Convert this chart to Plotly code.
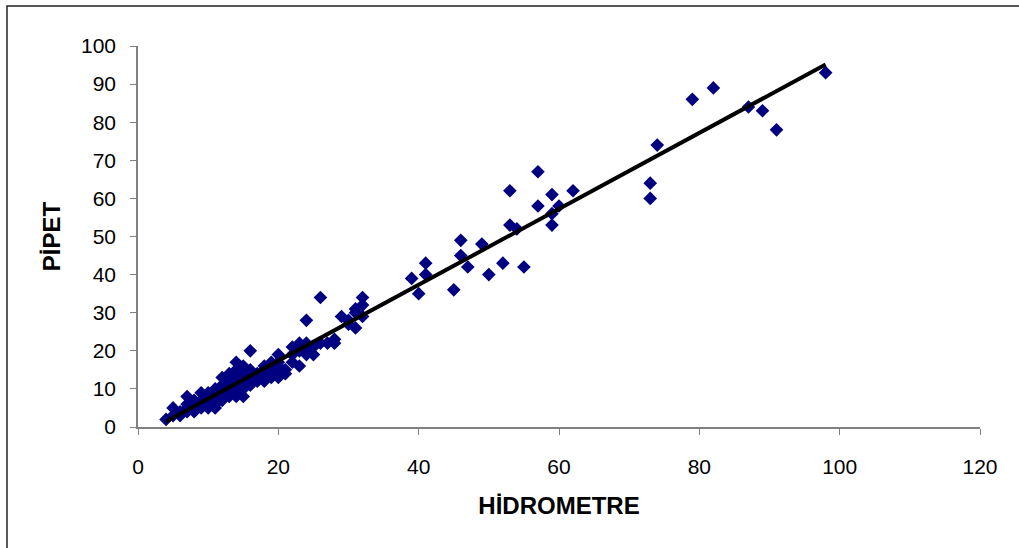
import numpy as np
import plotly.graph_objects as go

hidrometre = [4, 5, 5, 6, 6, 7, 7, 7, 7, 8, 8, 8, 8, 9, 9, 9, 9, 10, 10, 10, 10, 10,
              11, 11, 11, 11, 11, 12, 12, 12, 12, 12, 13, 13, 13, 13, 13,
              14, 14, 14, 14, 14, 14, 14, 15, 15, 15, 15, 15, 15, 16, 16, 16, 16, 16,
              17, 17, 17, 18, 18, 18, 18, 19, 19, 19, 19, 20, 20, 20, 20, 20, 21, 21,
              22, 22, 22, 23, 23, 23, 24, 24, 24, 24, 25, 25, 26, 26, 27, 28, 28,
              29, 30, 30, 31, 31, 31, 32, 32, 32,
              39, 40, 41, 41, 45, 46, 46, 47, 49, 50, 52, 53, 53, 54, 55, 57, 57,
              59, 59, 59, 60, 62, 73, 73, 74, 79, 82, 87, 89, 91, 98]
pipet = [2, 5, 3, 4, 3, 8, 6, 4, 5, 7, 5, 4, 6, 9, 7, 5, 6, 8, 9, 6, 7, 5,
         10, 8, 6, 5, 9, 13, 10, 8, 7, 11, 12, 14, 10, 8, 9,
         17, 15, 13, 11, 9, 8, 12, 16, 14, 12, 10, 8, 13, 20, 15, 13, 11, 12,
         14, 12, 13, 15, 13, 16, 12, 17, 15, 13, 14, 19, 17, 15, 13, 16, 15, 14,
         21, 19, 17, 22, 20, 16, 22, 20, 28, 19, 21, 19, 34, 22, 22, 23, 22,
         29, 28, 27, 26, 31, 30, 34, 32, 29,
         39, 35, 43, 40, 36, 49, 45, 42, 48, 40, 43, 62, 53, 52, 42, 67, 58,
         61, 56, 53, 58, 62, 64, 60, 74, 86, 89, 84, 83, 78, 93]

x_ticks = [0, 20, 40, 60, 80, 100, 120]
y_ticks = [0, 10, 20, 30, 40, 50, 60, 70, 80, 90, 100]

xa = np.array(hidrometre, dtype=float)
ya = np.array(pipet, dtype=float)
slope, intercept = np.polyfit(xa, ya, 1)
line_x = np.array([xa.min(), xa.max()])
line_y = slope * line_x + intercept

fig = go.Figure()
fig.add_trace(go.Scatter(
    x=hidrometre, y=pipet, mode="markers",
    marker=dict(symbol="diamond", size=10.5, color="#000080",
                line=dict(width=0)),
    showlegend=False, hoverinfo="x+y"))
fig.add_trace(go.Scatter(
    x=line_x, y=line_y, mode="lines",
    line=dict(color="black", width=4), showlegend=False))

font_family = "Liberation Sans, Arial, sans-serif"
fig.update_layout(
    width=1019, height=548,
    margin=dict(l=138, r=39, t=46, b=121),
    plot_bgcolor="white", paper_bgcolor="white",
    font=dict(family=font_family, size=21, color="black"),
    xaxis=dict(range=[0, 120], tickvals=x_ticks, showgrid=False, zeroline=False,
               showline=True, linecolor="#808080", linewidth=1.5,
               ticks="outside", ticklen=6, tickcolor="#808080", tickwidth=1,
               ticklabelstandoff=14,
               title=dict(text="<b>HİDROMETRE</b>", font=dict(size=24), standoff=20)),
    yaxis=dict(range=[0, 100], tickvals=y_ticks, showgrid=False, zeroline=False,
               showline=True, linecolor="#808080", linewidth=1.5,
               ticks="outside", ticklen=6, tickcolor="#808080", tickwidth=1,
               ticklabelstandoff=10,
               title=dict(text="<b>PİPET</b>", font=dict(size=24), standoff=14)),
    shapes=[dict(type="rect", xref="paper", yref="paper",
                 x0=-0.1556, x1=1.07, y0=-0.4, y1=1.105,
                 line=dict(color="#222222", width=1.5), layer="below")],
)
fig.write_html("out.html")
